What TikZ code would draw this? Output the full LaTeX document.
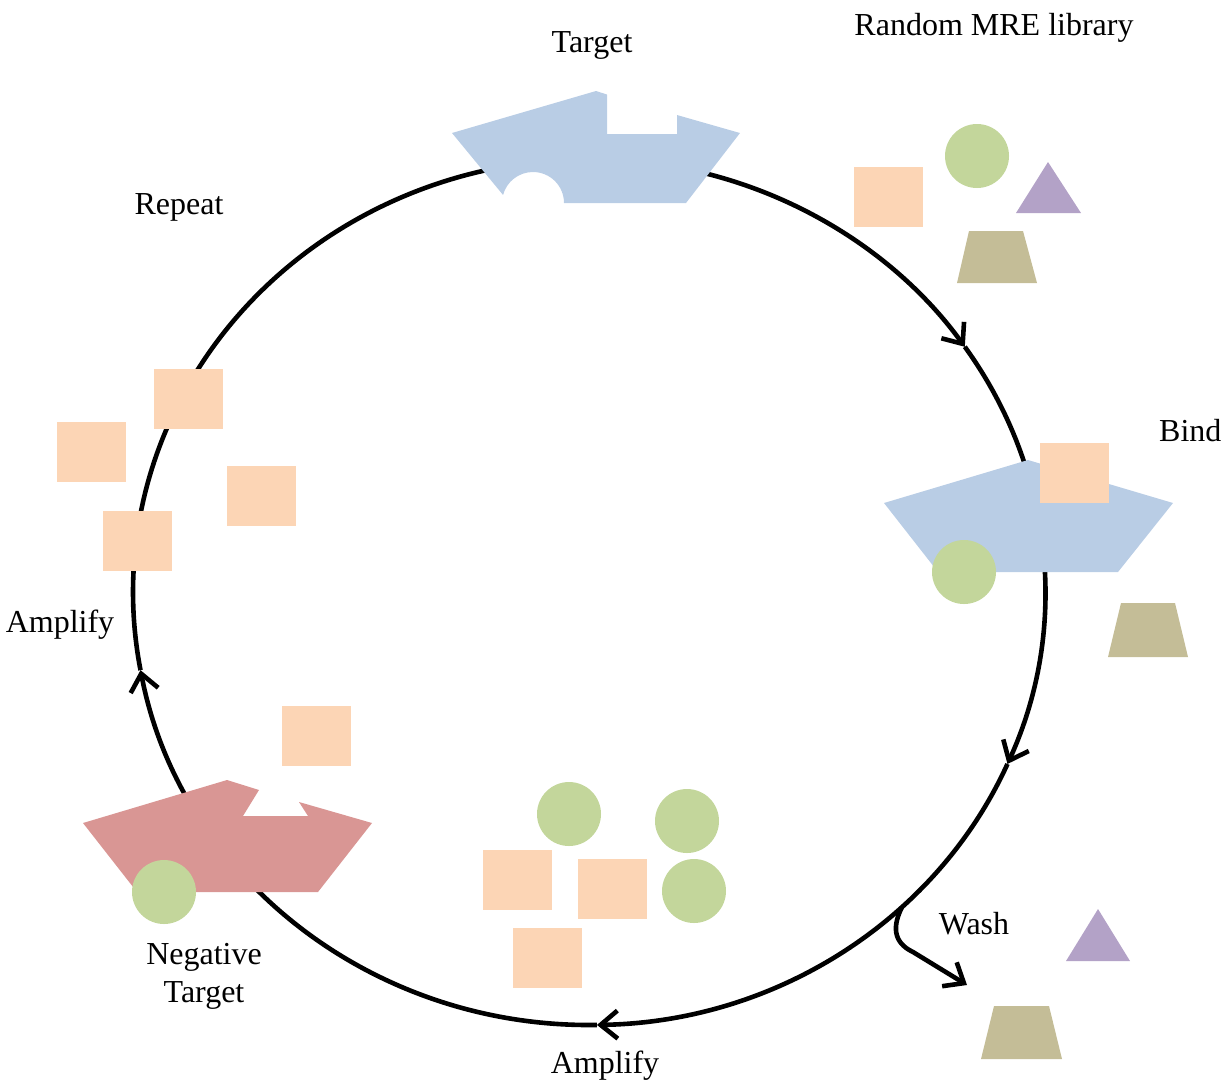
\documentclass[tikz,border=0pt]{standalone}
\usepackage{fontspec}
\setmainfont{Liberation Serif}
\usetikzlibrary{arrows.meta}
\definecolor{tblue}{HTML}{B9CDE5}
\definecolor{tred}{HTML}{D99694}
\definecolor{sqor}{HTML}{FCD5B5}
\definecolor{cgreen}{HTML}{C3D69B}
\definecolor{tpurp}{HTML}{B3A2C7}
\definecolor{ttan}{HTML}{C4BD97}
\tikzset{
  lbl/.style={font=\fontsize{32}{38}\selectfont, inner sep=0pt, anchor=base},
  cyc/.style={line width=4.6pt, draw=black},
  tip/.style={-{Straight Barb[length=17pt,width=28pt]}},
  sq/.style={fill=sqor, minimum width=69pt, minimum height=60pt, inner sep=0pt, draw=none},
  ball/.style={circle, fill=cgreen, minimum size=64pt, inner sep=0pt, draw=none},
}
\begin{document}
\begin{tikzpicture}[x=1pt, y=-1pt]
\useasboundingbox (0,0) rectangle (1228,1080);

% selection cycle (clockwise), drawn under the shapes
\coordinate (c) at (589,592);
\draw[cyc,tip] (c) ++(230:456 and 433) arc[start angle=230, end angle=325.5, x radius=456, y radius=433];
\draw[cyc,tip] (c) ++(325.5:456 and 433) arc[start angle=325.5, end angle=383.4, x radius=456, y radius=433];
\draw[cyc,tip] (c) ++(383.4:456 and 433) arc[start angle=383.4, end angle=449, x radius=456, y radius=433];
\draw[cyc,tip] (c) ++(449:456 and 433) arc[start angle=449, end angle=529.6, x radius=456, y radius=433];
\draw[cyc] (c) ++(529.6:456 and 433) arc[start angle=529.6, end angle=590, x radius=456, y radius=433];

% wash branch
\coordinate (w0) at (902,907);
\coordinate (w1) at (967,985);
\draw[cyc,tip] (w0) .. controls (893,925) and (892,942) .. (913,952) -- (w1);

% target with its binding pockets
\fill[tblue] (452,133) -- (596,91) -- (607,94.5) -- (607,134) -- (677,134) -- (677,115)
  -- (740,133) -- (686,203) -- (564,203) arc[start angle=0, end angle=-165, radius=31] -- cycle;

% random library
\node[sq] (lib1) at (888,196.5) {};
\node[ball] (lib2) at (977,156) {};
\fill[tpurp] (1016,213) -- (1048,162) -- (1081,213) -- cycle;
\fill[ttan] (969,231) -- (1023,231) -- (1037,283) -- (957,283) -- cycle;

% bind step
\fill[tblue] (884,503) -- (1028,460) -- (1173,503) -- (1118,572) -- (938,572) -- cycle;
\node[sq] (b1) at (1074.5,473) {};
\node[ball] (b2) at (964,572) {};
\fill[ttan] (1121,603) -- (1175,603) -- (1188,657) -- (1108,657) -- cycle;

% washed away
\fill[tpurp] (1066,961) -- (1098,909) -- (1130,961) -- cycle;
\fill[ttan] (994,1006) -- (1049,1006) -- (1062,1059) -- (981,1059) -- cycle;

% amplified binders
\node[ball] (a1) at (569,814) {};
\node[ball] (a2) at (687,821) {};
\node[ball] (a3) at (694,891) {};
\node[sq] (a4) at (517.5,880) {};
\node[sq] (a5) at (612.5,889) {};
\node[sq] (a6) at (547.5,958) {};

% negative target
\fill[tred] (83,823) -- (227,780) -- (259,790) -- (243,816) -- (308,816) -- (299,802)
  -- (372,823) -- (318,892) -- (137,892) -- cycle;
\node[ball] (n1) at (164,892) {};
\node[sq] (n2) at (316,735.5) {};

% second amplification
\node[sq] (r1) at (188,399) {};
\node[sq] (r2) at (91.5,452) {};
\node[sq] (r3) at (261.5,496) {};
\node[sq] (r4) at (137.5,541) {};

% labels
\node[lbl] (tTarget) at (592,52) {Target};
\node[lbl] (tLib) at (994,35) {Random MRE library};
\node[lbl] (tRepeat) at (179,214) {Repeat};
\node[lbl, anchor=base west] (tBind) at (1159,441) {Bind};
\node[lbl] (tAmpL) at (60,632) {Amplify};
\node[lbl] (tAmpB) at (605,1073) {Amplify};
\node[lbl] (tNeg1) at (204,964) {Negative};
\node[lbl] (tNeg2) at (204,1002) {Target};
\node[lbl] (tWash) at (974,934) {Wash};
\end{tikzpicture}
\end{document}
